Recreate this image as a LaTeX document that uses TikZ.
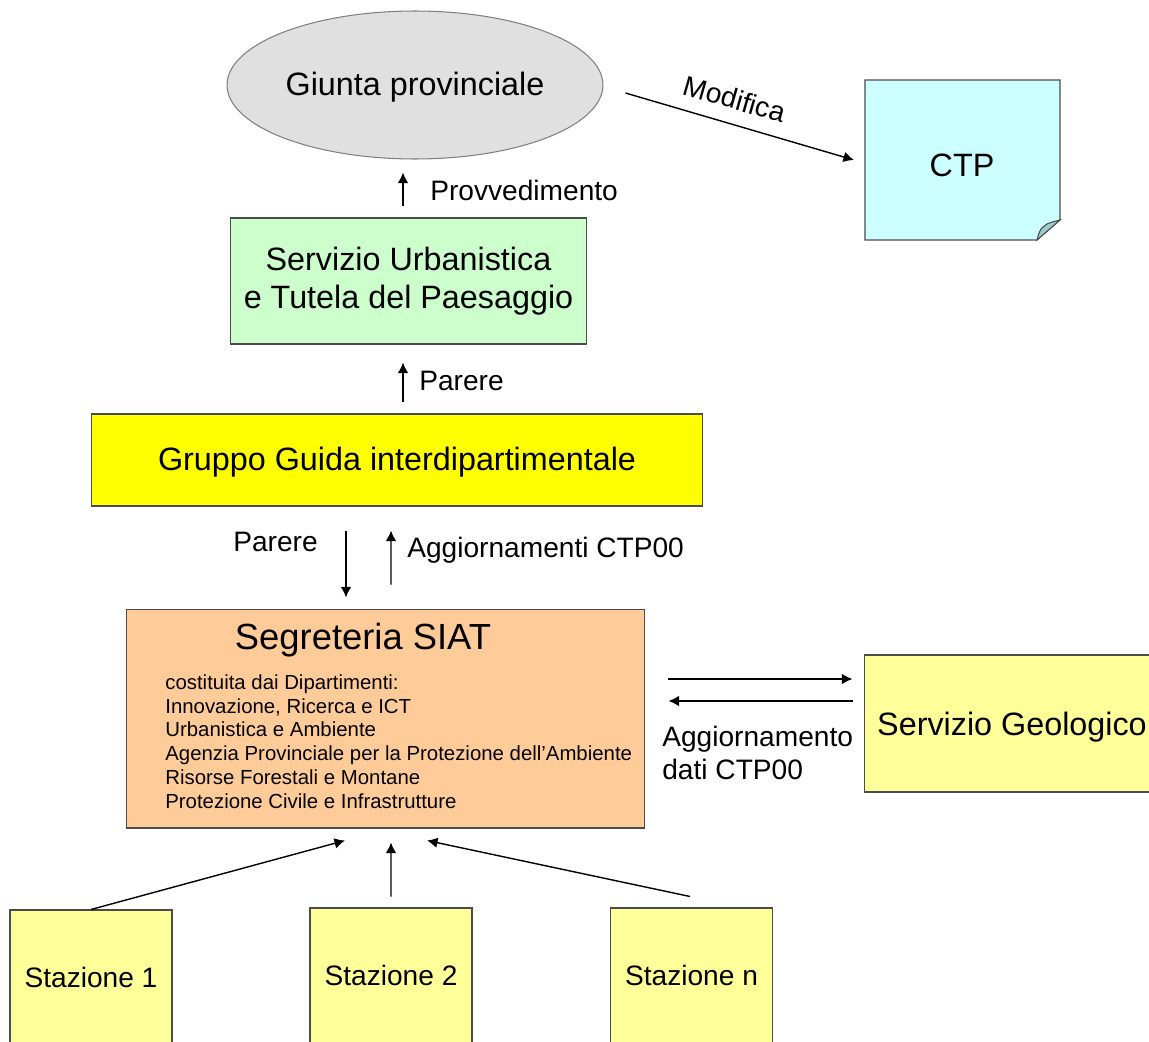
\documentclass[tikz,border=0pt]{standalone}
\usepackage{fontspec}
\setmainfont{Liberation Sans}
\usepackage{xcolor}
\usepackage{tikz}
\usetikzlibrary{shapes.geometric,arrows.meta}

\definecolor{giuntagray}{HTML}{E0E0E0}
\definecolor{ctpcyan}{HTML}{CCFFFF}
\definecolor{ctpfold}{HTML}{9CCCCC}
\definecolor{urbgreen}{HTML}{CCFFCC}
\definecolor{guidayellow}{HTML}{FFFF00}
\definecolor{siatorange}{HTML}{FFCC99}
\definecolor{paleyellow}{HTML}{FFFF99}

\begin{document}
\begin{tikzpicture}[x=0.02cm,y=-0.02cm,
	box/.style={draw=black!70, line width=0.6pt, inner sep=2pt, font=\fontsize{18.4}{22}\selectfont},
	lab/.style={inner sep=0pt, font=\fontsize{16}{19}\selectfont},
	arr/.style={-{Latex[length=6pt,width=6pt]}, line width=0.8pt}]

\clip (0,0) rectangle (1149,1041);
\fill[white] (0,0) rectangle (1149,1041);

\node[box, ellipse, fill=giuntagray, draw=black!50, minimum width=7.4cm, minimum height=2.96cm, text height=16pt] (giunta) at (415,85) {Giunta provinciale};

\draw[fill=ctpcyan, draw=black!70, line width=0.6pt] (865,80)--(1060,80)--(1060,220)--(1037,240)--(865,240)--cycle;
\draw[fill=ctpfold, draw=black!70, line width=0.6pt] (1037,240) .. controls (1040,229) .. (1047,224) .. controls (1052,222) .. (1060,220) -- cycle;
\node[box, draw=none, minimum width=3.9cm, minimum height=3.2cm] (ctp) at (962,165) {CTP};

\node[box, fill=urbgreen, align=center, minimum width=7.14cm, minimum height=2.52cm,
	font=\fontsize{18.4}{22}\selectfont] (urb) at (408.5,281) {Servizio Urbanistica\\e Tutela del Paesaggio};

\node[box, fill=guidayellow, minimum width=12.24cm, minimum height=1.84cm, text height=16pt] (guida) at (397,460) {Gruppo Guida interdipartimentale};

\node[box, fill=siatorange, minimum width=10.38cm, minimum height=4.38cm] (siat) at (385.5,718.5) {};
\node[inner sep=0pt, font=\fontsize{20.7}{24}\selectfont] (siattitle) at (363,640) {Segreteria SIAT};
\node[inner sep=0pt, anchor=north west, align=left, font=\fontsize{11.6}{13.6}\selectfont] (siatlist) at (165,674) {costituita dai Dipartimenti:\\Innovazione, Ricerca e ICT\\Urbanistica e Ambiente\\Agenzia Provinciale per la Protezione dell’Ambiente\\Risorse Forestali e Montane\\Protezione Civile e Infrastrutture};

\node[box, fill=paleyellow, minimum width=5.92cm, minimum height=2.74cm, text height=17pt] (geo) at (1012,723.5) {Servizio Geologico};

\foreach \n/\x/\y/\t in {st1/91/977.5/1, st2/391/975.5/2, stn/691.5/975.5/n}{
	\node[box, fill=paleyellow, minimum width=3.24cm, minimum height=2.7cm, font=\fontsize{16}{19}\selectfont] (\n) at (\x,\y) {Stazione \t};
}

\draw[arr] ([shift={(22,8)}]giunta.east) -- ([shift={(-10,-5)}]ctp.west);
\node[lab, rotate=-16] (modifica) at (735,99) {Modifica};

\draw[arr] ([shift={(-5.5,-11)}]urb.north) -- ([shift={(-12,13)}]giunta.south);
\node[lab, anchor=west] (provv) at (430,190) {Provvedimento};

\draw[arr] ([shift={(6,-11)}]guida.north) -- ([shift={(-5.5,18)}]urb.south);
\node[lab, anchor=west] (parere1) at (419,381) {Parere};

\draw[arr] ([shift={(-51,24)}]guida.south) -- ([shift={(-39.5,-11)}]siat.north);
\node[lab, anchor=east] (parere2) at (318,542) {Parere};
\draw[arr] ([shift={(5.5,-24)}]siat.north) -- ([shift={(-6,24)}]guida.south);
\node[lab, anchor=west] (aggctp) at (407,550) {Aggiornamenti CTP00};

\draw[arr] ([shift={(23,-39.5)}]siat.east) -- ([shift={(-11,-44.5)}]geo.west);
\draw[arr] ([shift={(-11,-22.5)}]geo.west) -- ([shift={(23,-17.5)}]siat.east);
\node[lab, anchor=west, align=left, font=\fontsize{16}{18.7}\selectfont] (aggdati) at (662,753) {Aggiornamento\\dati CTP00};

\draw[arr] (st1.north) -- ([shift={(-40.5,12)}]siat.south);
\draw[arr] ([yshift=0.22cm]st2.north) -- ([shift={(5.5,14)}]siat.south);
\draw[arr] ([shift={(-1.5,-11)}]stn.north) -- ([shift={(41.5,12)}]siat.south);

\end{tikzpicture}
\end{document}
